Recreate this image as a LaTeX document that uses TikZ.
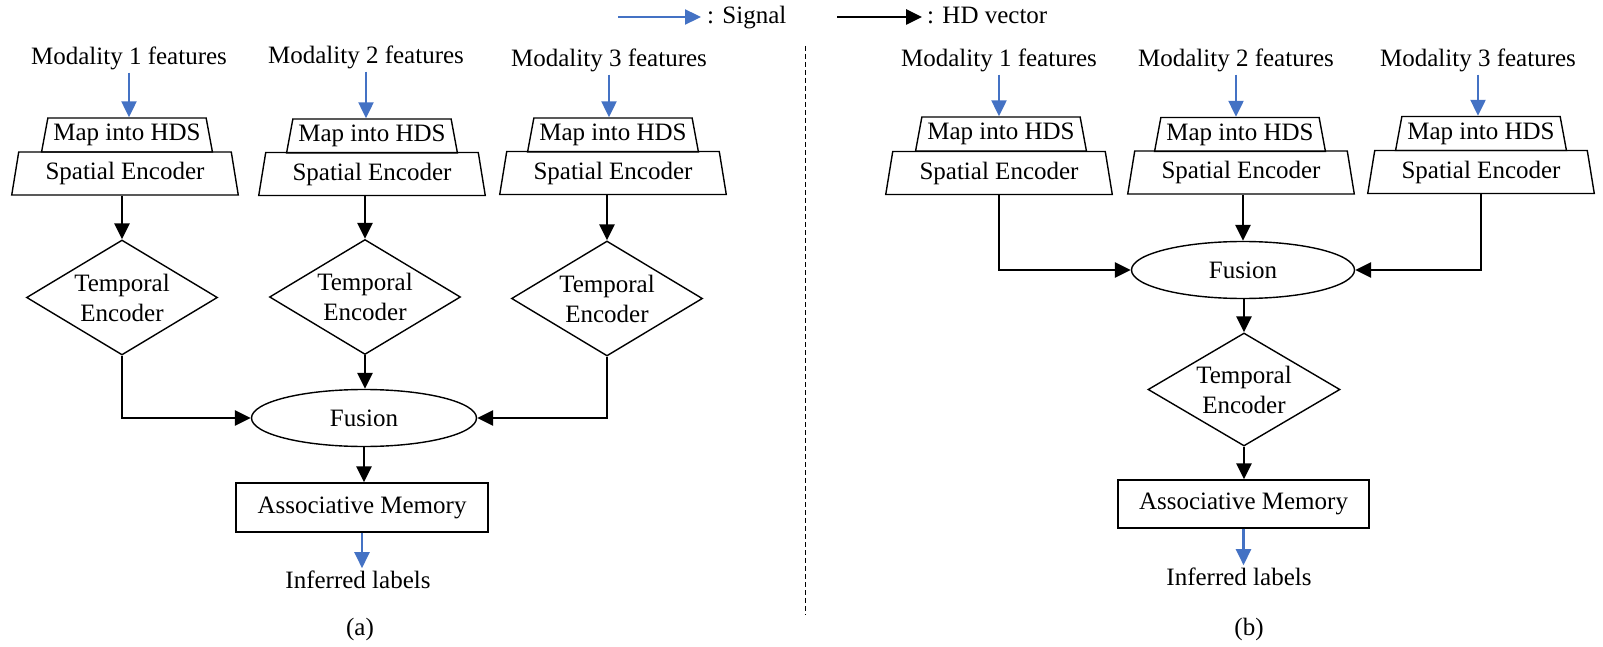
\documentclass[tikz,border=0pt]{standalone}
\usepackage{fontspec}
\setmainfont{Liberation Serif}
\usetikzlibrary{arrows.meta,shapes.geometric}
\definecolor{sigblue}{RGB}{68,114,196}
\begin{document}
\begin{tikzpicture}[x=1pt,y=-1pt,font=\fontsize{25}{30}\selectfont,
  hd/.style={-{Triangle[length=16pt,width=15pt]},line width=2.6pt},
  sig/.style={-{Triangle[length=16pt,width=15pt]},line width=2.3pt,color=sigblue},
  mapbox/.style={trapezium,draw,line width=1.4pt,trapezium stretches=true,
    trapezium left angle=75,trapezium right angle=75,
    minimum width=171pt,minimum height=34pt,inner sep=0pt},
  spbox/.style={trapezium,draw,line width=1.4pt,trapezium stretches=true,
    trapezium left angle=77,trapezium right angle=77,
    minimum width=227pt,minimum height=43pt,inner sep=0pt},
  tempbox/.style={diamond,draw,line width=1.4pt,aspect=1.66,inner sep=0pt,
    minimum width=191pt,minimum height=115pt,align=center},
  fusbox/.style={ellipse,draw,line width=1.4pt,minimum width=225pt,
    minimum height=57pt,inner sep=0pt},
  ambox/.style={rectangle,draw,line width=1.4pt,minimum width=252pt,
    minimum height=49pt,inner sep=0pt},
  lbl/.style={anchor=base,inner sep=2pt}]
\useasboundingbox (0,0) rectangle (1603,647);

% legend
\coordinate (sigS) at (618,17);
\coordinate (sigE) at (701,17);
\node[anchor=base west,inner sep=0pt] (sigL) at (707,24) {: Signal};
\draw[sig] (sigS) -- (sigE);
\coordinate (hdS) at (837,17);
\coordinate (hdE) at (922,17);
\node[anchor=base west,inner sep=0pt] (hdL) at (927,24) {: HD vector};
\draw[hd] (hdS) -- (hdE);

% divider
\coordinate (divT) at (805,46);
\coordinate (divB) at (805,615);
\draw[line width=1pt,dash pattern=on 5pt off 3pt] (divT) -- (divB);

% ---------- panel (a) ----------
\node[lbl] (m1a) at (129,65) {Modality 1 features};
\node[lbl] (m2a) at (366,64) {Modality 2 features};
\node[lbl] (m3a) at (609,67) {Modality 3 features};

\node[mapbox] (map1a) at (127,135) {Map into HDS};
\node[mapbox] (map2a) at (372,136) {Map into HDS};
\node[mapbox] (map3a) at (613,135) {Map into HDS};

\node[spbox] (sp1a) at (125,173.5) {Spatial Encoder};
\node[spbox] (sp2a) at (372,174) {Spatial Encoder};
\node[spbox] (sp3a) at (613,173) {Spatial Encoder};

\node[tempbox] (te1a) at (122,297.5) {Temporal\\Encoder};
\node[tempbox] (te2a) at (365,297) {Temporal\\Encoder};
\node[tempbox] (te3a) at (607,298.5) {Temporal\\Encoder};

\node[fusbox] (fa) at (364,418) {Fusion};
\node[ambox] (ama) at (362,507.5) {Associative Memory};
\node[lbl] (infa) at (358,588) {Inferred labels};
\node[lbl] (capa) at (360,635) {(a)};

\draw[sig] (m1a) -- (m1a |- map1a.north);
\draw[sig] (m2a) -- (m2a |- map2a.north);
\draw[sig] (m3a) -- (m3a |- map3a.north);
\draw[hd] (te1a.north |- sp1a.south) -- (te1a.north);
\draw[hd] (te2a.north |- sp2a.south) -- (te2a.north);
\draw[hd] (te3a.north |- sp3a.south) -- (te3a.north);
\draw[hd] (te1a.south) |- (fa.west);
\draw[hd] (te3a.south) |- (fa.east);
\draw[hd] (te2a.south) -- (te2a.south |- fa.north);
\draw[hd] (fa.south) -- (fa.south |- ama.north);
\draw[sig] (ama.south) -- (ama.south |- infa.north);

% ---------- panel (b) ----------
\node[lbl] (m1b) at (999,67) {Modality 1 features};
\node[lbl] (m2b) at (1236,67) {Modality 2 features};
\node[lbl] (m3b) at (1478,67) {Modality 3 features};

\node[mapbox] (map1b) at (1001,134) {Map into HDS};
\node[mapbox] (map2b) at (1240,134.5) {Map into HDS};
\node[mapbox] (map3b) at (1481,133.5) {Map into HDS};

\node[spbox] (sp1b) at (999,173) {Spatial Encoder};
\node[spbox] (sp2b) at (1241,172.5) {Spatial Encoder};
\node[spbox] (sp3b) at (1481,172) {Spatial Encoder};

\node[fusbox,minimum width=223pt] (fb) at (1243,270) {Fusion};
\node[tempbox,minimum width=192pt,minimum height=113pt] (teb) at (1244,389.5) {Temporal\\Encoder};
\node[ambox,minimum width=251pt,minimum height=48pt] (amb) at (1243.5,504) {Associative Memory};
\node[lbl] (infb) at (1239,585) {Inferred labels};
\node[lbl] (capb) at (1249,635) {(b)};

\draw[sig] (m1b) -- (m1b |- map1b.north);
\draw[sig] (m2b) -- (m2b |- map2b.north);
\draw[sig] (m3b) -- (m3b |- map3b.north);
\draw[hd] (sp1b.south) |- (fb.west);
\draw[hd] (sp3b.south) |- (fb.east);
\draw[hd] (fb.north |- sp2b.south) -- (fb.north);
\draw[hd] (teb.north |- fb.south) -- (teb.north);
\draw[hd] (teb.south) -- (teb.south |- amb.north);
\draw[sig] (amb.south) -- (amb.south |- infb.north);
\end{tikzpicture}
\end{document}
